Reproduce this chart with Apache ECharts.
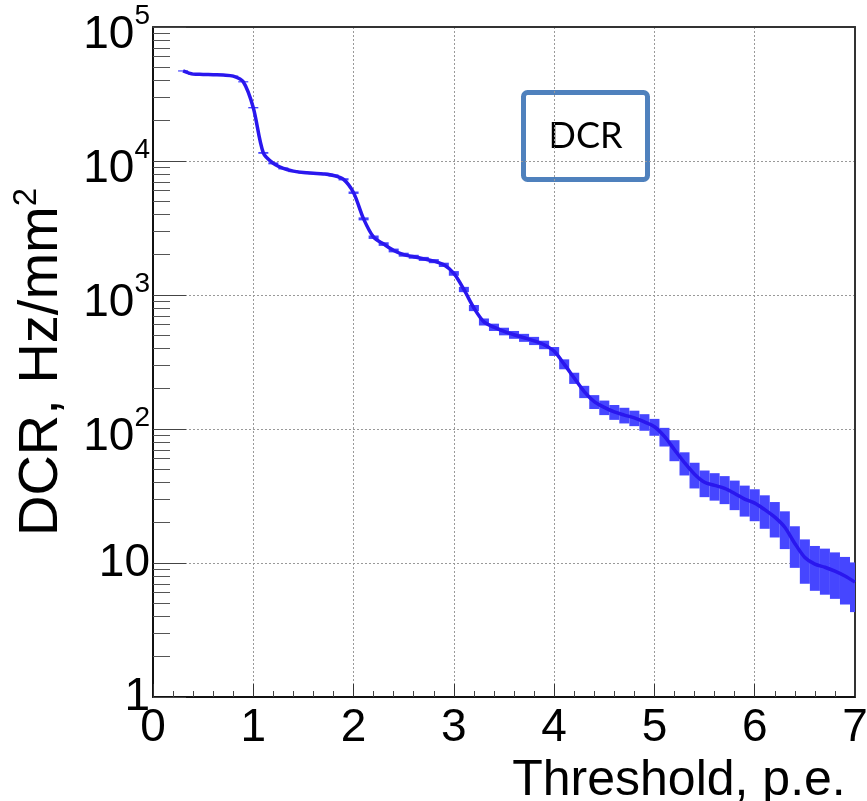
<!DOCTYPE html>
<html lang="en">
<head>
<meta charset="UTF-8">
<title>DCR vs threshold</title>
<script src="https://cdn.jsdelivr.net/npm/echarts@6/dist/echarts.min.js"></script>
<style>html,body{margin:0;background:#fff}</style>
</head>
<body>
<div id="main" style="width:867px;height:801px"></div>
<script>
// threshold (p.e.), DCR (Hz/mm2) and its error
const thresholds = [0.3, 0.4, 0.5, 0.6, 0.7, 0.8, 0.9, 1.0, 1.1, 1.2, 1.3, 1.4, 1.5, 1.6, 1.7, 1.8, 1.9,
    2.0, 2.1, 2.2, 2.3, 2.4, 2.5, 2.6, 2.7, 2.8, 2.9, 3.0, 3.1, 3.2, 3.3, 3.4, 3.5, 3.6, 3.7, 3.8, 3.9,
    4.0, 4.1, 4.2, 4.3, 4.4, 4.5, 4.6, 4.7, 4.8, 4.9, 5.0, 5.1, 5.2, 5.3, 5.4, 5.5, 5.6, 5.7, 5.8, 5.9,
    6.0, 6.1, 6.2, 6.3, 6.4, 6.5, 6.6, 6.7, 6.8, 6.9, 7.0];
const dcr = [47000, 44500, 44300, 44000, 43800, 43000, 39000, 25000, 11500, 9600, 8800, 8400, 8200, 8100, 8000, 7800, 7300,
    5800, 3700, 2700, 2400, 2150, 2000, 1930, 1860, 1790, 1680, 1450, 1100, 800, 630, 575, 535, 505, 480, 455, 425,
    380, 305, 240, 190, 160, 145, 134, 127, 121, 113, 104, 88, 70, 56, 46, 40, 38, 36, 33, 30,
    28, 25, 22, 18.5, 14, 11, 9.8, 9.3, 8.7, 8.0, 7.2];
const dcrErr = [500, 450, 450, 450, 450, 450, 420, 300, 180, 160, 150, 150, 150, 150, 150, 145, 140,
    120, 95, 80, 75, 70, 68, 66, 65, 63, 62, 58, 50, 42, 38, 36, 35, 34, 33, 32, 31,
    29, 26, 23, 20, 19, 18, 17, 17, 16, 16, 15, 14, 12.5, 11, 10, 9, 8.8, 8.5, 8.2, 7.8,
    7.5, 7, 6.5, 5.8, 4.8, 4, 3.6, 3.5, 3.3, 3.1, 2.9];

const xTicks = [0, 1, 2, 3, 4, 5, 6, 7];
const binHalf = 0.05;

const fontFam = "'Liberation Sans', Arial, Helvetica, sans-serif";

// minor ticks of the log axis (2..9 in each decade)
let minorY = [];
for (let d = 1; d < 100000; d *= 10) {
    for (let k = 2; k <= 9; k++) minorY.push(k * d);
}

let myChart = echarts.init(document.getElementById('main'));

let option = {
    animation: false,
    backgroundColor: '#fff',
    grid: {left: 153, right: 12, top: 27, bottom: 104, containLabel: false, outerBoundsMode: 'none'},
    xAxis: [{
        type: 'value',
        min: xTicks[0],
        max: xTicks[xTicks.length - 1],
        interval: 1,
        name: 'Threshold, p.e.',
        nameLocation: 'middle',
        nameGap: 48,
        // left padding pushes the centred title to the right end, like ROOT
        nameTextStyle: {
            fontFamily: fontFam, fontSize: 50, color: '#000',
            padding: [0, 0, 0, 350]
        },
        axisLine: {onZero: false, lineStyle: {color: '#111', width: 2}},
        axisTick: {inside: true, length: 13, lineStyle: {color: '#333'}},
        minorTick: {show: true, splitNumber: 5, length: 6, lineStyle: {color: '#444'}},
        axisLabel: {
            fontFamily: fontFam, fontSize: 46, color: '#000', margin: 8,
            showMinLabel: true, showMaxLabel: true
        },
        splitLine: {show: true, lineStyle: {type: [2, 2], color: '#999', width: 1}}
    }, {
        type: 'value', min: 0, max: 7, position: 'top',
        axisLine: {show: true, onZero: false, lineStyle: {color: '#333', width: 2}},
        axisTick: {show: false}, axisLabel: {show: false}, splitLine: {show: false}
    }],
    yAxis: [{
        type: 'log',
        logBase: 10,
        min: 1,
        max: 100000,
        position: 'left',
        name: 'DCR, Hz/mm{sup|2}',
        nameLocation: 'middle',
        nameGap: 80,
        nameTextStyle: {
            fontFamily: fontFam, fontSize: 56, color: '#000',
            rich: {sup: {fontFamily: fontFam, fontSize: 33, color: '#000', padding: [0, 0, 30, 0]}}
        },
        axisLine: {onZero: false, lineStyle: {color: '#111', width: 2}},
        axisTick: {inside: true, length: 33, lineStyle: {color: '#444'}},
        axisLabel: {
            fontFamily: fontFam, fontSize: 46, color: '#000', margin: 3,
            formatter: function (v) {
                if (v < 100) return String(Math.round(v));
                return '{b|10}{sup|' + Math.round(Math.log10(v)) + '}';
            },
            rich: {
                b: {fontFamily: fontFam, fontSize: 46, color: '#000', padding: [16, 0, 0, 0]},
                sup: {fontFamily: fontFam, fontSize: 28, color: '#000', padding: [0, 0, 22, 0]}
            }
        },
        splitLine: {show: true, lineStyle: {type: [2, 2], color: '#999', width: 1}}
    }, {
        type: 'log',
        logBase: 10,
        min: 1,
        max: 100000,
        position: 'left',
        axisLine: {show: false},
        axisLabel: {show: false},
        splitLine: {show: false},
        axisTick: {show: true, inside: true, length: 17, customValues: minorY, lineStyle: {color: '#555'}}
    }, {
        type: 'value', min: 0, max: 1, position: 'right',
        axisLine: {show: true, onZero: false, lineStyle: {color: '#333', width: 2}},
        axisTick: {show: false}, axisLabel: {show: false}, splitLine: {show: false}
    }],
    graphic: [{
        type: 'group',
        left: 521,
        top: 90,
        z: 100,
        children: [{
            type: 'rect',
            shape: {x: 0, y: 0, width: 124, height: 87, r: 4},
            style: {fill: '#fff', stroke: '#4f81bd', lineWidth: 5}
        }, {
            type: 'text',
            x: 62,
            y: 44,
            style: {
                text: 'DCR', fill: '#000', fontFamily: 'Lato, "Open Sans", sans-serif', fontSize: 36,
                align: 'center', verticalAlign: 'middle', textAlign: 'center', textVerticalAlign: 'middle'
            }
        }]
    }],
    series: [{
        name: 'DCR error',
        type: 'custom',
        xAxisIndex: 0,
        yAxisIndex: 0,
        clip: true,
        z: 2,
        data: thresholds.map((x, i) => [x, dcr[i], dcrErr[i]]),
        encode: {x: 0, y: 1},
        renderItem: function (params, api) {
            let x = api.value(0), v = api.value(1), e = api.value(2);
            let p1 = api.coord([x - binHalf, v + e]);
            let p2 = api.coord([x + binHalf, v - e]);
            return {
                type: 'rect',
                shape: {x: p1[0], y: p1[1], width: p2[0] - p1[0], height: p2[1] - p1[1]},
                style: {fill: '#4646ff'}
            };
        }
    }, {
        name: 'DCR',
        type: 'line',
        xAxisIndex: 0,
        yAxisIndex: 0,
        z: 3,
        symbol: 'none',
        smooth: 0.3,
        data: thresholds.map((x, i) => [x, dcr[i]]),
        lineStyle: {color: '#2a17ee', width: 3.5}
    }]
};

myChart.setOption(option);
</script>
</body>
</html>
